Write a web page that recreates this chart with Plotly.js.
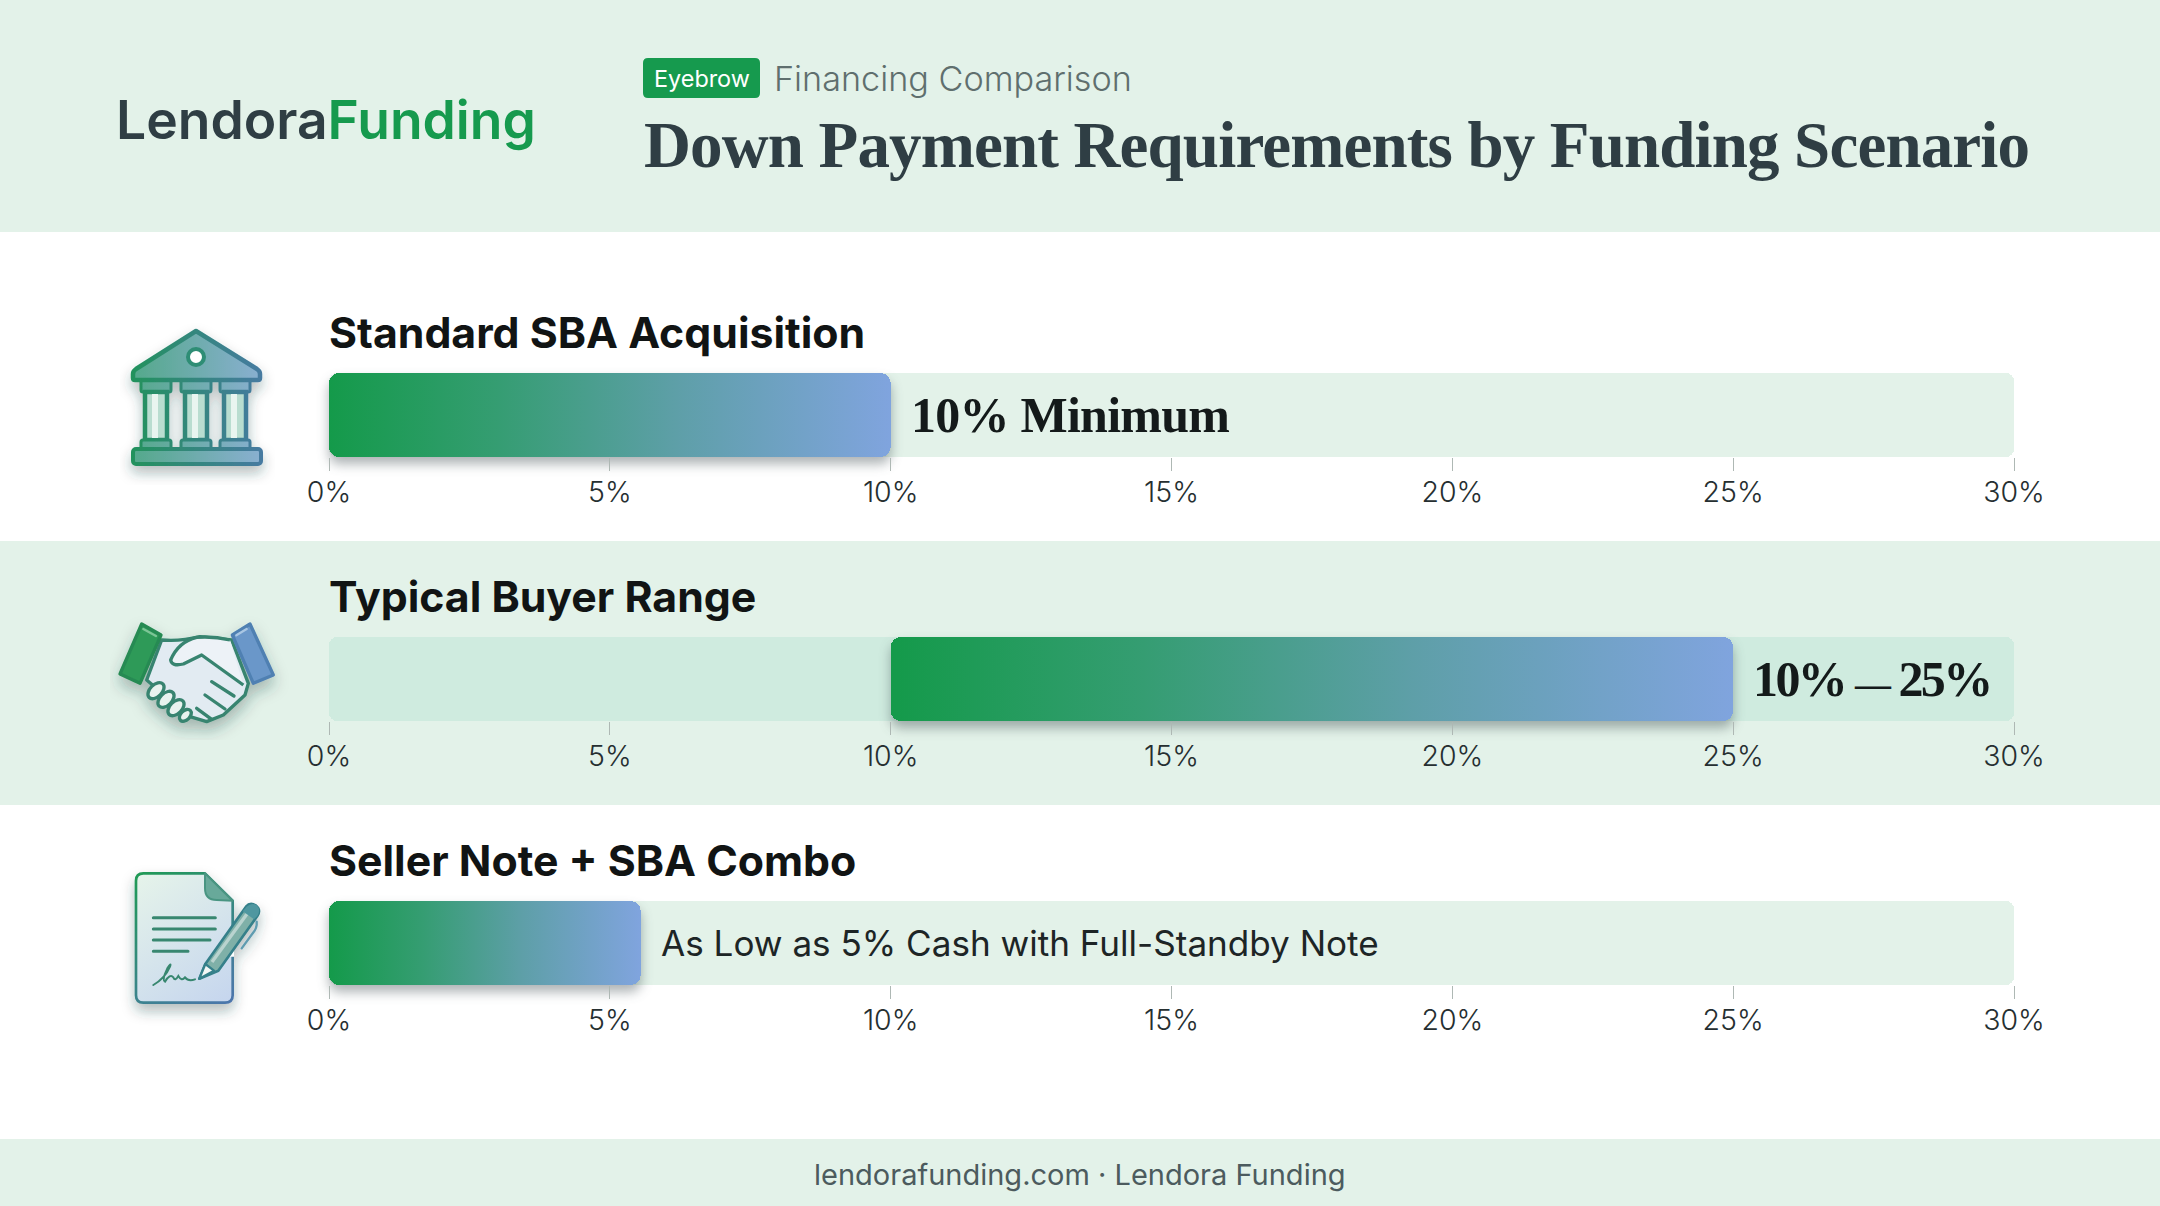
<!DOCTYPE html>
<html><head><meta charset="utf-8">
<script src="https://cdn.plot.ly/plotly-3.0.1.min.js"></script>
<style>html,body{margin:0;padding:0;background:#fff}#chart{width:2160px;height:1206px}</style>
</head><body><div id="chart"></div>
<script>
const scenarios = ["Standard SBA Acquisition", "Typical Buyer Range", "Seller Note + SBA Combo"];
const rangeStart = [0, 10, 0];
const rangeEnd = [10, 25, 5.55];
const trackMax = [30, 30, 30];
const valueLabels = ["10% Minimum", '10% <span style="font-size:36px">—</span> 25%', "As Low as 5% Cash with Full-Standby Note"];
const tickValues = [0, 5, 10, 15, 20, 25, 30];
const tickLabels = ["0%", "5%", "10%", "15%", "20%", "25%", "30%"];

const W = 2160, H = 1206;
const SANS = 'Inter, "Noto Sans", sans-serif', SERIF = '"Liberation Serif", serif';
const BAND = '#e3f2e9', GREEN = '#169a4e', INK = '#2f3e44';
const PX = x => x / W, PY = y => 1 - y / H;
const rows = [{top:373, bot:457, title:332, track:'#e3f2e9'},
              {top:637, bot:721, title:596, track:'#cfebdf'},
              {top:901, bot:985, title:860, track:'#e3f2e9'}];
const PLOT_L = 329, PLOT_R = 2014;

function rect(x0,y0,x1,y1,color){
  return {type:'rect',xref:'paper',yref:'paper',x0:PX(x0),x1:PX(x1),y0:PY(y0),y1:PY(y1),
          fillcolor:color,line:{width:0},layer:'below'};
}
function rrect(x0,y0,x1,y1,r,color){
  const X=PX,Y=PY;
  return {type:'path',xref:'paper',yref:'paper',fillcolor:color,line:{width:0},layer:'below',
    path:`M ${X(x0+r)} ${Y(y0)} L ${X(x1-r)} ${Y(y0)} Q ${X(x1)} ${Y(y0)} ${X(x1)} ${Y(y0+r)} L ${X(x1)} ${Y(y1-r)} Q ${X(x1)} ${Y(y1)} ${X(x1-r)} ${Y(y1)} L ${X(x0+r)} ${Y(y1)} Q ${X(x0)} ${Y(y1)} ${X(x0)} ${Y(y1-r)} L ${X(x0)} ${Y(y0+r)} Q ${X(x0)} ${Y(y0)} ${X(x0+r)} ${Y(y0)} Z`};
}
function text(t,x,y,size,color,family,weight,anchor){
  return {text:t,xref:'paper',yref:'paper',x:PX(x),y:PY(y),xanchor:anchor||'left',yanchor:'middle',
          showarrow:false,borderpad:0,font:{size,color,family,weight:weight||400}};
}

const traces = [];
const layout = {
  width:W,height:H,margin:{l:0,r:0,t:0,b:0},paper_bgcolor:'#fff',plot_bgcolor:'rgba(0,0,0,0)',
  showlegend:false,barmode:'overlay',bargap:0,
  shapes:[rect(0,0,W,232,BAND),rect(0,541,W,805,BAND),rect(0,1139,W,1206,BAND),rrect(643,58,760,98,5,GREEN)],
  annotations:[
    text(`<span style="color:${INK}">Lendora</span><span style="color:${GREEN}">Funding</span>`,115,119,53.4,INK,SANS,600),
    text('Eyebrow',701.5,78,23.4,'#ffffff',SANS,400,'center'),
    text('Financing Comparison',773,79,34.2,'#5f6f6e',SANS,300),
    text('Down Payment Requirements by Funding Scenario',643,145,65,INK,SERIF,700),
    text('lendorafunding.com · Lendora Funding',1080,1174,29,'#4c5b5e',SANS,400,'center')
  ],
  images:[]
};

scenarios.forEach((name,i)=>{
  const s = i===0?'':String(i+1), r = rows[i];
  const xa = 'x'+s, ya = 'y'+s;
  traces.push({type:'bar',orientation:'h',x:[trackMax[i]],y:[name],base:[0],xaxis:xa,yaxis:ya,width:[1],
    marker:{color:r.track,line:{width:0},cornerradius:8},hoverinfo:'skip',cliponaxis:false});
  traces.push({type:'bar',orientation:'h',x:[rangeEnd[i]-rangeStart[i]],y:[name],base:[rangeStart[i]],xaxis:xa,yaxis:ya,width:[1],
    marker:{color:'#4b9f96',line:{width:0},cornerradius:10},cliponaxis:false,name});
  layout['xaxis'+s] = {domain:[PX(PLOT_L),PX(PLOT_R)],range:[0,30],anchor:ya,tickmode:'array',tickvals:tickValues,ticktext:tickLabels,
    ticks:'outside',ticklen:13,tickwidth:1,tickcolor:'#aeb8b4',showgrid:false,zeroline:false,showline:false,
    tickfont:{family:SANS,size:28.5,color:'#262f31',weight:300},ticklabelstandoff:-3,fixedrange:true};
  layout['yaxis'+s] = {domain:[PY(r.bot),PY(r.top)],anchor:xa,type:'category',showticklabels:false,ticks:'',showgrid:false,zeroline:false,showline:false,fixedrange:true};
  layout.annotations.push(text(name,328,r.title,42.8,'#111414',SANS,700));
  const serifLabel = i<2;
  layout.annotations.push({text:valueLabels[i],xref:xa,yref:ya,x:rangeEnd[i],y:name,xanchor:'left',yanchor:'middle',xshift:19,
    showarrow:false,borderpad:0,font:serifLabel?{family:SERIF,size:50,color:'#141a1a',weight:700}:{family:SANS,size:35.1,color:'#1d2526',weight:400}});
});

/* ---- icons ---- */
function grad(id,a,b){return `<linearGradient id="${id}" gradientUnits="userSpaceOnUse" x1="0" y1="0" x2="GW" y2="0"><stop offset="0" stop-color="${a}"/><stop offset="1" stop-color="${b}"/></linearGradient>`;}
function svgUri(w,h,vb,gw,body){
  const shadow = '<filter id="sh" x="-20%" y="-20%" width="140%" height="150%"><feDropShadow dx="0" dy="GD" stdDeviation="GS" flood-color="#24403a" flood-opacity=".33"/></filter>';
  const d = gw/22;
  const defs = (grad('s','#1f9456','#4a78a8')+grad('f','#4fa884','#8fb0d8')+grad('p','#e2f2e8','#c6d5ee')+shadow)
     .replace(/GW/g,gw).replace(/GD/g,d).replace(/GS/g,d*.9);
  return 'data:image/svg+xml;charset=utf-8,'+encodeURIComponent(
   `<svg xmlns="http://www.w3.org/2000/svg" width="${w}" height="${h}" viewBox="${vb}"><defs>${defs}</defs>${body}</svg>`);
}
function addIcon(x,y,w,h,src){
  layout.images.push({source:src,xref:'paper',yref:'paper',x:PX(x),y:PY(y),sizex:w/W,sizey:h/H,sizing:'stretch',xanchor:'left',yanchor:'top',layer:'above'});
}
// bank : viewBox in page pixels relative to (120,320)
const col = cx => `<rect x="${cx-15}" y="60" width="30" height="12" rx="2" fill="url(#f)" stroke="url(#s)" stroke-width="3"/>
<rect x="${cx-11}" y="72" width="22" height="48" fill="#b9ddd0" stroke="url(#s)" stroke-width="4.5"/>
<rect x="${cx-4}" y="74" width="6" height="44" fill="#e9f5f0"/>
<rect x="${cx-15}" y="120" width="30" height="10" rx="2" fill="url(#f)" stroke="url(#s)" stroke-width="3"/>`;
addIcon(120,320,155,165,svgUri(155,165,'0 0 155 165',155,
 `<g filter="url(#sh)">${col(36)}${col(76)}${col(115)}
 <path d="M76 11 L137 49 Q140 51 140 54 L140 58 Q140 60 138 60 L15 60 Q13 60 13 58 L13 54 Q13 51 16 49 Z" fill="url(#f)" stroke="url(#s)" stroke-width="4.5" stroke-linejoin="round"/>
 <circle cx="76" cy="37" r="8" fill="#fff" stroke="#2e8d74" stroke-width="4"/>
 <rect x="13" y="129" width="128" height="15" rx="3" fill="url(#f)" stroke="url(#s)" stroke-width="4"/></g>`));
// handshake : viewBox in zoom coordinates (3x page px)
const hs = 'fill="none" stroke="#37846f" stroke-width="10" stroke-linecap="round" stroke-linejoin="round"';
addIcon(110,610,180,130,svgUri(180,130,'0 0 540 390',540,
 `<g transform="translate(-60,-150)" filter="url(#sh)">
 <path d="M215 240 Q270 245 330 230 Q380 235 425 240 L475 370 L465 405 L400 465 L350 485 L300 470 L170 360 Z" fill="#e2ebf2" stroke="#37846f" stroke-width="10" stroke-linejoin="round"/>
 <path d="M420 240 Q370 228 320 232 Q265 245 242 300 Q245 320 280 312 L335 285 L460 375" fill="#edf2f7" stroke="#37846f" stroke-width="10" stroke-linejoin="round"/>
 <path d="M365 365 L432 408 M345 405 L405 447 M320 445 L365 478" ${hs}/>
 <g fill="#e9f3ef" stroke="#37846f" stroke-width="10">
 <ellipse cx="198" cy="392" rx="18" ry="29" transform="rotate(45 198 392)"/>
 <ellipse cx="228" cy="418" rx="18" ry="29" transform="rotate(45 228 418)"/>
 <ellipse cx="258" cy="443" rx="18" ry="29" transform="rotate(45 258 443)"/>
 <ellipse cx="286" cy="466" rx="14" ry="21" transform="rotate(45 286 466)"/></g>
 <path d="M155 192 L213 225 L150 370 L90 342 Z" fill="#2e9a58" stroke="#278a52" stroke-width="10" stroke-linejoin="round"/>
 <path d="M160 207 L198 228" stroke="#7cc596" stroke-width="7" stroke-linecap="round"/>
 <path d="M480 192 L427 225 L490 370 L550 345 Z" fill="#6a97c9" stroke="#4f80b2" stroke-width="10" stroke-linejoin="round"/>
 <path d="M470 207 L439 226" stroke="#a9c6e3" stroke-width="7" stroke-linecap="round"/></g>`));
// document : viewBox in zoom coordinates
addIcon(120,840,160,190,svgUri(160,190,'0 0 480 570',480,
 `<defs><linearGradient id="dp" gradientUnits="userSpaceOnUse" x1="138" y1="940" x2="428" y2="1328"><stop offset="0" stop-color="#e6f4ea"/><stop offset="1" stop-color="#c5d5ee"/></linearGradient>
 <linearGradient id="ds" gradientUnits="userSpaceOnUse" x1="138" y1="940" x2="428" y2="1328"><stop offset="0" stop-color="#1f9a55"/><stop offset="1" stop-color="#4d76ad"/></linearGradient></defs>
 <g transform="translate(-90,-840)" filter="url(#sh)">
 <path d="M345 940 L160 940 Q138 940 138 962 L138 1306 Q138 1328 160 1328 L405 1328 Q428 1328 428 1306 L428 1022 Z" fill="url(#dp)" stroke="url(#ds)" stroke-width="8" stroke-linejoin="round"/>
 <path d="M345 940 L345 985 Q345 1020 380 1020 L428 1022 Z" fill="#68a99a" stroke="#4a9582" stroke-width="6" stroke-linejoin="round"/>
 <path d="M190 1073 H376 M190 1107 H376 M190 1140 H360 M190 1174 H294" stroke="#37876f" stroke-width="9" stroke-linecap="round"/>
 <path d="M190 1275 Q225 1255 240 1220 Q245 1205 232 1225 Q215 1260 225 1265 Q240 1240 250 1252 Q255 1265 265 1248 Q275 1265 285 1252 Q295 1265 315 1258" fill="none" stroke="#37876f" stroke-width="6" stroke-linecap="round"/>
 <path d="M432 1090 L365 1190 L432 1190 Z" fill="#fff"/>
 <path d="M328 1256 L346 1212 L468 1040 Q480 1026 497 1036 Q514 1050 502 1068 L385 1232 Z" fill="#7fb0a8" stroke="#35808a" stroke-width="8" stroke-linejoin="round"/>
 <path d="M366 1206 L478 1052" stroke="#b9d3cf" stroke-width="10"/>
 <path d="M328 1256 L346 1212 L372 1232 Z" fill="#f2f7f5" stroke="#35808a" stroke-width="7" stroke-linejoin="round"/>
 <path d="M470 1040 Q485 1026 500 1036 Q514 1050 502 1068 L492 1078 L458 1054 Z" fill="#4f97a0"/>
 <path d="M500 1085 Q502 1105 488 1120 L455 1165" fill="none" stroke="#5f9cb0" stroke-width="7" stroke-linecap="round"/></g>`));

/* tighten a drawn text while keeping its left edge where it was */
function tighten(gd,content,letter,word){
  gd.querySelectorAll('.annotation-text').forEach(el=>{
    if(el.textContent!==content) return;
    const before = el.getBBox().x;
    el.style.letterSpacing = letter+'px';
    el.style.wordSpacing = (word||0)+'px';
    const after = el.getBBox().x;
    el.setAttribute('x',parseFloat(el.getAttribute('x')||0)+before-after);
  });
}

Plotly.newPlot('chart',traces,layout,{displayModeBar:false,staticPlot:true}).then(gd=>{
  const svg = gd.querySelector('.main-svg');
  const defs = svg.querySelector('defs');
  const NS='http://www.w3.org/2000/svg';
  const lg = document.createElementNS(NS,'linearGradient');
  lg.setAttribute('id','barGradient');
  [[0,'#149a4a'],[.3,'#359d72'],[.62,'#5e9fa8'],[1,'#80a4de']].forEach(([o,c])=>{
    const st=document.createElementNS(NS,'stop');st.setAttribute('offset',o);st.setAttribute('stop-color',c);lg.appendChild(st);
  });
  defs.appendChild(lg);
  ['xy','x2y2','x3y3'].forEach(sp=>{
    const p = gd.querySelector(`.subplot.${sp} .barlayer .trace:nth-child(2) path`);
    if(!p) return;
    p.style.fill='url(#barGradient)';
    for(let n=p;n&&n!==svg;n=n.parentNode){n.removeAttribute('clip-path');if(n.style)n.style.clipPath='none';}
    p.style.filter='drop-shadow(0 7px 6px rgba(40,55,60,.38))';
  });
  tighten(gd,'Down Payment Requirements by Funding Scenario',-0.85);
  tighten(gd,'10% Minimum',-0.75);
  tighten(gd,'10% — 25%',-2.6);
});
</script></body></html>
